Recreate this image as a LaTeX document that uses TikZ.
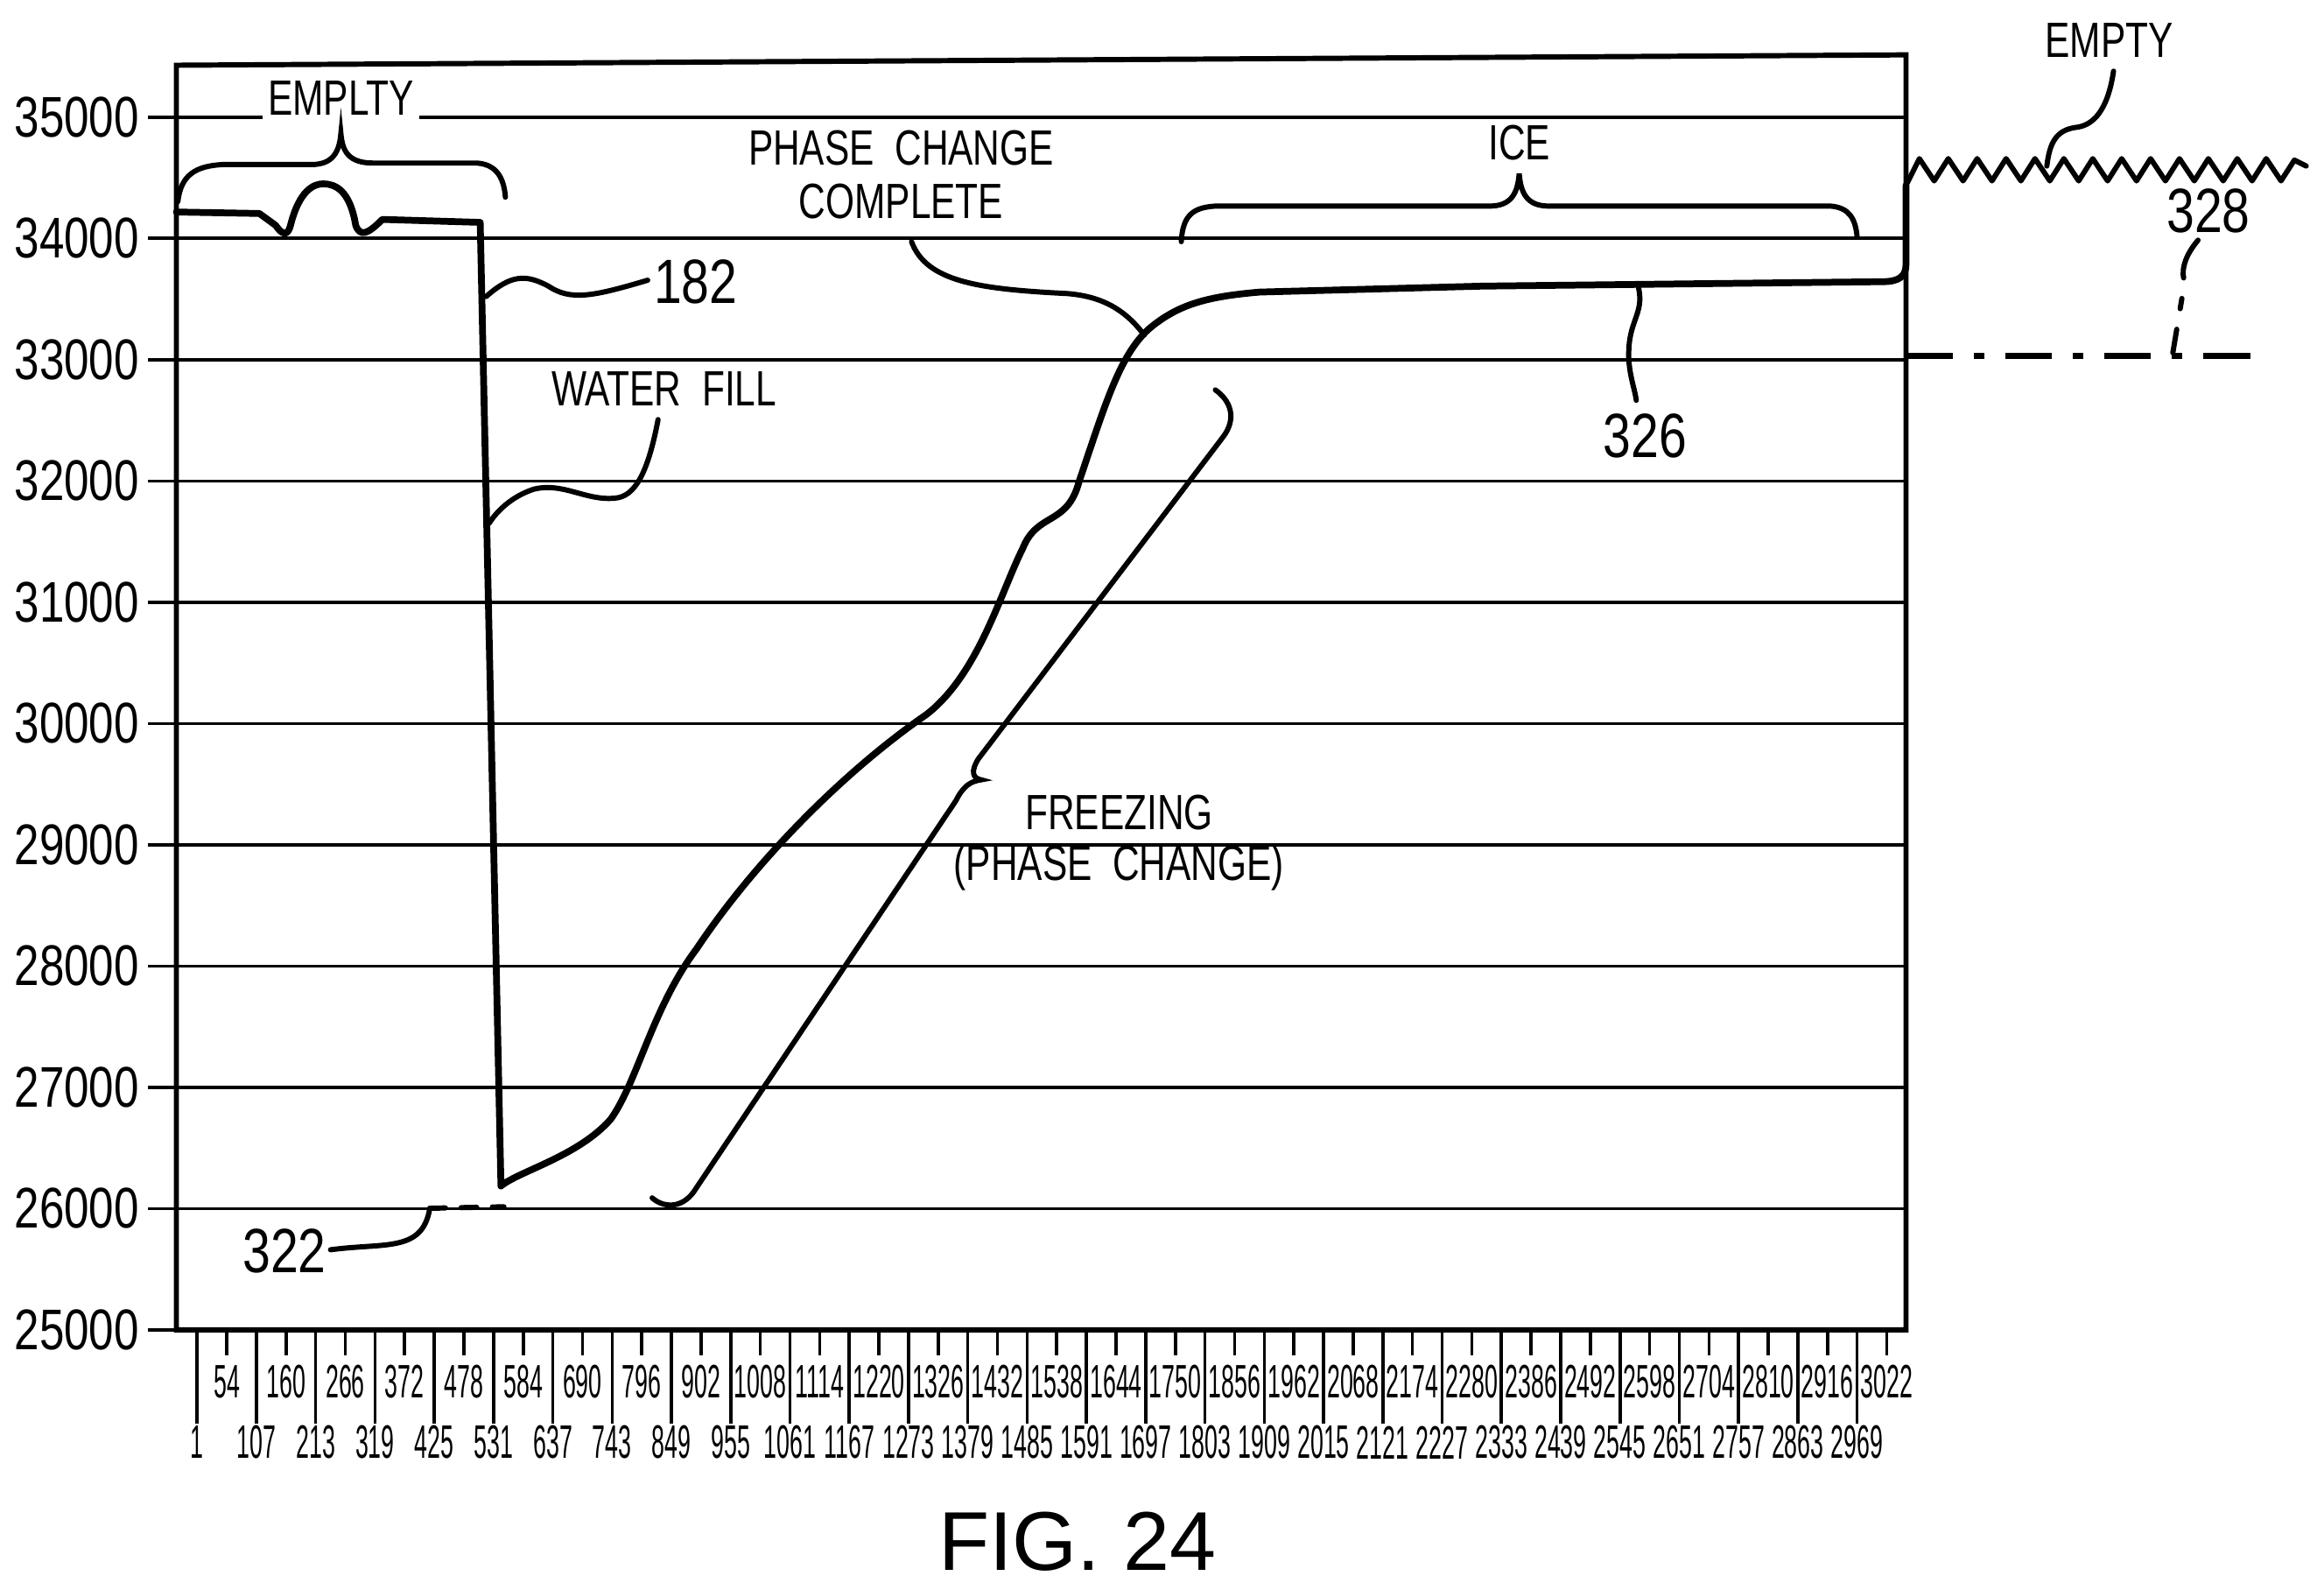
\documentclass[tikz,border=0pt]{standalone}
\usepackage{fontspec}
\setmainfont{Liberation Sans}
\newcommand\narr[2]{\scalebox{#1}[1]{#2}}
\begin{document}
\begin{tikzpicture}[x=0.01cm,y=-0.01cm,
  grid/.style={line width=0.6pt},
  curve/.style={line width=1.3pt,line join=round,line cap=round},
  lead/.style={line width=1pt,line cap=round},
  lab/.style={font=\fontsize{11}{11}\selectfont,inner sep=1pt},
  tk/.style={font=\fontsize{9}{9}\selectfont,inner sep=0pt},
  ann/.style={font=\fontsize{9.5}{11}\selectfont,inner sep=1pt,align=center},
  big/.style={font=\fontsize{12}{12}\selectfont,inner sep=1pt}]
\useasboundingbox (0,0) rectangle (1568,1072);
% box
\draw[line width=1pt] (119,897) -- (119,44) -- (1286,37) -- (1286,897) -- cycle;
% gridlines and y labels
\foreach \k/\v in {0/25000,1/26000,2/27000,3/28000,4/29000,5/30000,6/31000,7/32000,8/33000,9/34000,10/35000}{
  \draw[grid] (100,{897-81.8*\k}) -- (1286,{897-81.8*\k});
  \node[lab,anchor=east] (y\k) at (98,{897-81.8*\k}) {\narr{0.78}{\v}};
}
% x ticks
\foreach \j in {0,...,28}{
  \pgfmathtruncatemacro\lo{1+106*\j}
  \pgfmathtruncatemacro\up{54+106*\j}
  \draw[grid] ({133+40*\j},897) -- ({133+40*\j},960);
  \draw[grid] ({153+40*\j},897) -- ({153+40*\j},914);
  \node[tk] (xl\j) at ({133+40*\j},973) {\narr{0.5}{\lo}};
  \node[tk] (xu\j) at ({153+40*\j},932) {\narr{0.5}{\up}};
}
% main curve
\draw[curve] (119,143) -- (175,144) -- (186,152) .. controls (190,158) and (194,160) .. (196,152)
  .. controls (202,128) and (212,124) .. (218,124) .. controls (226,124) and (236,128) .. (240,152)
  .. controls (243,160) and (248,158) .. (258,148) -- (324,150) -- (338,800)
  .. controls (350,790) and (390,780) .. (412,755)
  .. controls (430,730) and (440,680) .. (470,640)
  .. controls (510,580) and (570,520) .. (625,482)
  .. controls (660,455) and (675,400) .. (690,370)
  .. controls (700,345) and (720,355) .. (728,325)
  .. controls (745,275) and (755,240) .. (775,222)
  .. controls (795,205) and (815,200) .. (850,197)
  -- (1000,193) -- (1270,190) .. controls (1282,190) and (1286,186) .. (1286,178) -- (1286,125);
% zigzag
\draw[curve,line width=1pt] (1286,125) \foreach \k in {0,...,12}{ -- ({1295+\k*19.5},107) -- ({1305+\k*19.5},122)} -- (1548,108) -- (1556,112);
% dash-dot line 328
\draw[line width=1.2pt,dash pattern=on 9pt off 4pt on 2pt off 4pt] (1286,240) -- (1527,240);
\draw[lead,dash pattern=on 8pt off 4pt on 2pt off 4pt] (1483,162) .. controls (1472,175) and (1472,185) .. (1474,190) -- (1466,238);
\node[big] (t328) at (1490,142) {\narr{0.8}{328}};
% EMPTY right
\node[ann] (empty) at (1423,27) {\narr{0.75}{EMPTY}};
\draw[lead] (1426,48) .. controls (1422,75) and (1412,85) .. (1400,86) .. controls (1388,88) and (1383,95) .. (1381,112);
% EMPLTY brace
\node[ann,fill=white] (emplty) at (230,66) {\narr{0.75}{EMPLTY}};
\draw[lead] (120,136) .. controls (122,118) and (132,112) .. (150,111) -- (210,111)
  .. controls (225,111) and (229,102) .. (230,90) .. controls (231,102) and (235,110) .. (252,110)
  -- (322,110) .. controls (335,111) and (340,120) .. (341,133);
% 182
\draw[lead] (328,200) .. controls (345,185) and (355,185) .. (370,193) .. controls (385,203) and (400,200) .. (437,189);
\node[big,anchor=west] (t182) at (437,190) {\narr{0.8}{182}};
% WATER FILL
\node[ann] (wf) at (448,262) {\narr{0.75}{WATER\ \ FILL}};
\draw[lead] (444,283) .. controls (437,320) and (428,335) .. (415,336) .. controls (395,338) and (380,325) .. (360,330) .. controls (345,335) and (335,345) .. (330,353);
% 322
\node[big] (t322) at (192,844) {\narr{0.8}{322}};
\draw[lead] (223,843) .. controls (260,838) and (285,845) .. (290,815);
\draw[lead,dashed] (290,815) -- (340,814);
% phase change complete
\node[ann] (pcc) at (608,100) {\narr{0.75}{PHASE\ \ CHANGE}};
\node[ann] (pcc2) at (608,136) {\narr{0.75}{COMPLETE}};
\draw[lead] (615,163) .. controls (625,190) and (660,195) .. (720,198) .. controls (745,200) and (760,210) .. (772,226);
% ICE brace
\node[ann] (ice) at (1025,96) {\narr{0.75}{ICE}};
\draw[lead] (797,163) .. controls (798,145) and (805,140) .. (820,139) -- (1005,139)
  .. controls (1020,139) and (1024,130) .. (1025,117) .. controls (1026,130) and (1030,139) .. (1045,139)
  -- (1235,139) .. controls (1248,140) and (1252,148) .. (1253,160);
% 326
\draw[lead] (1105,192) .. controls (1110,210) and (1100,215) .. (1099,235) .. controls (1098,250) and (1103,262) .. (1104,270);
\node[big] (t326) at (1110,294) {\narr{0.8}{326}};
% freezing brace
\draw[lead] (440,808) .. controls (448,815) and (460,815) .. (468,804) -- (645,540)
  .. controls (650,530) and (655,527) .. (662,526) .. controls (656,525) and (655,520) .. (660,512)
  -- (825,295) .. controls (835,282) and (830,270) .. (820,263);
\node[ann] (frz) at (755,548) {\narr{0.75}{FREEZING}};
\node[ann] (frz2) at (755,585) {\narr{0.75}{(PHASE\ \ CHANGE)}};
% title
\node[font=\fontsize{16}{16}\selectfont] (fig) at (727,1040) {FIG. 24};
\end{tikzpicture}
\end{document}
